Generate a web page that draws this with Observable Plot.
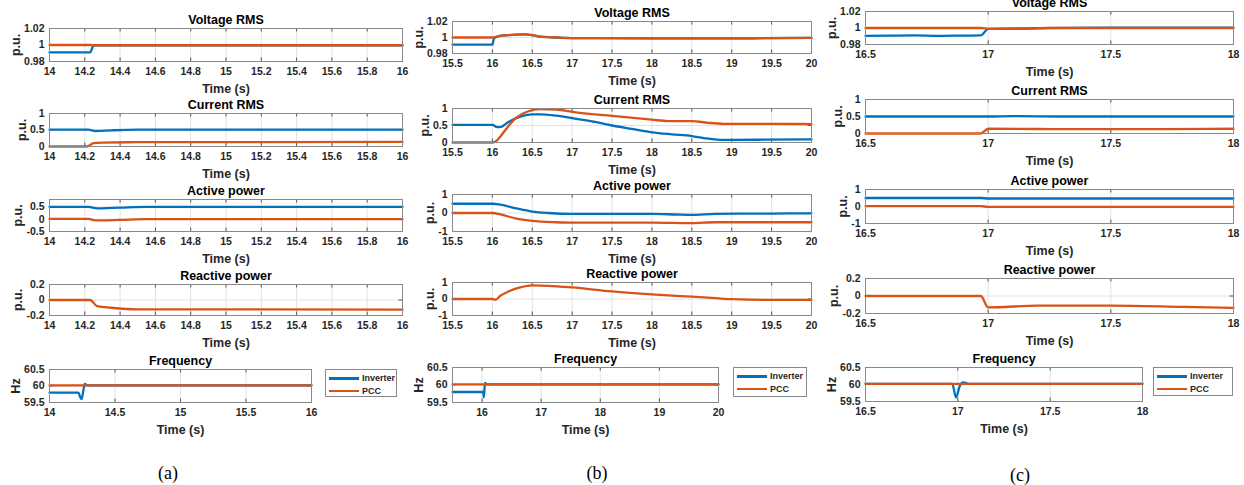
<!DOCTYPE html>
<html><head><meta charset="utf-8">
<script src="https://cdn.jsdelivr.net/npm/d3@7"></script>
<script src="https://cdn.jsdelivr.net/npm/@observablehq/plot@0.6"></script>
<style>
body{margin:0;background:#fff;}
#wrap{position:relative;width:1244px;height:485px;overflow:hidden;background:#fff;font-family:"Liberation Sans",Arial,sans-serif;}
.panel{position:absolute;}
.legend{position:absolute;border:1px solid #8a8a8a;background:#fff;box-sizing:border-box;font:bold 9px "Liberation Sans",Arial,sans-serif;color:#262626;padding-top:2px;}
.legend .row{display:flex;align-items:center;height:12.5px;}
.legend .sw{display:inline-block;width:30px;height:2.5px;margin:0 3px 0 3px;}
.cap{position:absolute;font:18px "Liberation Serif","Times New Roman",serif;transform:translate(-50%,-50%);color:#000;}
</style>
</head><body>
<div id="wrap"></div>
<script>
// ---------- tick labels ----------
const aXTicks = [14, 14.2, 14.4, 14.6, 14.8, 15, 15.2, 15.4, 15.6, 15.8, 16];
const aXTicksF = [14, 14.5, 15, 15.5, 16];
const bXTicks = [15.5, 16, 16.5, 17, 17.5, 18, 18.5, 19, 19.5, 20];
const bXTicksF = [16, 17, 18, 19, 20];
const cXTicks = [16.5, 17, 17.5, 18];
const cXTicksF = [16.5, 17, 17.5, 18];
const voltTicks = [0.98, 1, 1.02];
const curTicks = [0, 0.5, 1];
const actTicksA = [-0.5, 0, 0.5];
const actTicks = [-1, 0, 1];
const reaTicksSmall = [-0.2, 0, 0.2];
const reaTicks = [-1, 0, 1];
const freqTicks = [59.5, 60, 60.5];
const titles = ["Voltage RMS", "Current RMS", "Active power", "Reactive power", "Frequency"];
const seriesNames = ["Inverter", "PCC"];

// ---------- column (a) data [time, value] ----------
const aVoltInv = [[14,0.991],[14.23,0.991],[14.25,0.9995],[16,0.9995]];
const aVoltPcc = [[14,1.0],[14.23,1.0],[14.25,0.9997],[16,0.9997]];
const aCurInv = [[14,0.51],[14.22,0.51],[14.26,0.47],[14.35,0.49],[14.5,0.51],[16,0.51]];
const aCurPcc = [[14,0],[14.21,0],[14.25,0.1],[14.3,0.12],[14.5,0.13],[16,0.14]];
const aActInv = [[14,0.5],[14.22,0.5],[14.27,0.44],[14.4,0.47],[14.55,0.5],[16,0.5]];
const aActPcc = [[14,0.01],[14.22,0.01],[14.26,-0.05],[14.4,-0.03],[14.55,0],[16,0]];
const aReaPcc = [[14,0],[14.23,0],[14.27,-0.08],[14.35,-0.1],[14.5,-0.12],[16,-0.125]];
const aFreqInv = [[14,59.8],[14.22,59.8],[14.235,59.66],[14.245,59.6],[14.26,59.9],[14.27,60.06],[14.29,60.02],[16,60.02]];
const aFreqPcc = [[14,60.02],[16,60.02]];

// ---------- column (b) data ----------
const bVoltInv = [[15.5,0.991],[16,0.991],[16.02,0.999],[16.1,1.002],[16.2,1.003],[16.4,1.004],[16.5,1.003],[16.6,1.001],[16.8,1.0],[17,0.9993],[18,0.999],[19,0.999],[20,0.9995]];
const bVoltPcc = [[15.5,1.0],[16,1.0],[16.1,1.002],[16.2,1.003],[16.4,1.004],[16.5,1.003],[16.6,1.001],[16.8,1.0],[17,0.9993],[18,0.999],[19,0.999],[20,0.9995]];
const bCurInv = [[15.5,0.52],[16,0.52],[16.06,0.45],[16.12,0.47],[16.2,0.6],[16.35,0.76],[16.5,0.83],[16.6,0.83],[16.8,0.79],[17,0.72],[17.25,0.62],[17.5,0.5],[17.75,0.4],[18,0.3],[18.25,0.24],[18.5,0.19],[18.65,0.13],[18.85,0.08],[19,0.08],[20,0.09]];
const bCurPcc = [[15.5,0],[16,0],[16.05,0.05],[16.1,0.18],[16.2,0.48],[16.3,0.73],[16.45,0.92],[16.6,0.98],[16.8,0.97],[17,0.9],[17.5,0.78],[18,0.67],[18.2,0.63],[18.5,0.63],[18.7,0.58],[18.9,0.55],[19.5,0.55],[20,0.54]];
const bActInv = [[15.5,0.5],[16,0.5],[16.1,0.45],[16.3,0.25],[16.5,0.08],[16.7,0],[17,-0.05],[18,-0.05],[18.3,-0.08],[18.5,-0.1],[18.8,-0.05],[19.5,-0.03],[20,-0.02]];
const bActPcc = [[15.5,0],[16,0],[16.1,-0.08],[16.3,-0.3],[16.5,-0.43],[16.8,-0.5],[17,-0.52],[18,-0.52],[18.5,-0.55],[18.8,-0.5],[20,-0.5]];
const bReaPcc = [[15.5,0],[16,0],[16.04,-0.05],[16.1,0.2],[16.2,0.45],[16.35,0.7],[16.5,0.82],[16.7,0.8],[17,0.7],[17.5,0.46],[18,0.28],[18.5,0.14],[18.8,0.05],[19,-0.01],[19.5,-0.05],[20,-0.05]];
const bFreqInv = [[15.5,59.8],[16.02,59.8],[16.03,59.65],[16.05,60.06],[16.08,60.02],[20,60.02]];
const bFreqPcc = [[15.5,60.02],[20,60.02]];

// ---------- column (c) data ----------
const cVoltInv = [[16.5,0.9905],[16.6,0.9908],[16.7,0.991],[16.8,0.9905],[16.9,0.9908],[16.97,0.991],[17.0,0.999],[17.2,0.9998],[17.5,1.0005],[18,1.0005]];
const cVoltPcc = [[16.5,1.0],[16.97,1.0],[17.0,0.999],[17.15,0.999],[17.25,1.0],[18,1.0]];
const cCurInv = [[16.5,0.5],[17,0.5],[17.1,0.51],[17.3,0.5],[18,0.5]];
const cCurPcc = [[16.5,0],[16.97,0],[17.0,0.14],[17.3,0.13],[17.7,0.13],[18,0.14]];
const cActInv = [[16.5,0.5],[16.97,0.5],[17.0,0.47],[18,0.47]];
const cActPcc = [[16.5,0.02],[16.97,0.02],[17.0,-0.02],[18,-0.02]];
const cReaPcc = [[16.5,0],[16.97,0],[17.0,-0.13],[17.2,-0.11],[17.5,-0.11],[17.8,-0.125],[18,-0.135]];
const cFreqInv = [[16.5,60.02],[16.97,60.02],[16.99,59.62],[17.01,59.95],[17.03,60.06],[17.06,60.02],[18,60.02]];
const cFreqPcc = [[16.5,60.02],[18,60.02]];

// ---------- layout (frame positions in page pixels) ----------
const BLUE = "#0072BD", ORANGE = "#D95319";
const cols = [
  {L:49, R:402, fR:311, rows:[[28,61],[113,146],[199,231],[284,315],[369,402]], leg:[325,369,72,28], cap:[168,473,"(a)"],
   xd:[14,16], xt:aXTicks, xtf:aXTicksF,
   y:[[0.98,1.02,voltTicks],[0,1,curTicks],[-0.5,0.8,actTicksA],[-0.2,0.2,reaTicksSmall],[59.5,60.5,freqTicks]],
   s:[[aVoltInv,aVoltPcc],[aCurInv,aCurPcc],[aActInv,aActPcc],[null,aReaPcc],[aFreqInv,aFreqPcc]]},
  {L:452, R:811, fR:718, rows:[[21,53],[108,142],[194,231],[282,315],[367,402]], leg:[733,367,74,30], cap:[597,473,"(b)"],
   xd:[15.5,20], xt:bXTicks, xtf:bXTicksF,
   y:[[0.98,1.02,voltTicks],[0,1,curTicks],[-1,1,actTicks],[-1,1,reaTicks],[59.5,60.5,freqTicks]],
   s:[[bVoltInv,bVoltPcc],[bCurInv,bCurPcc],[bActInv,bActPcc],[null,bReaPcc],[bFreqInv,bFreqPcc]]},
  {L:865, R:1233, fR:1142, rows:[[11,44],[99,133],[189,223],[278,313],[367,401]], leg:[1153,367,80,29], cap:[1020,475,"(c)"],
   xd:[16.5,18], xt:cXTicks, xtf:cXTicksF,
   y:[[0.98,1.02,voltTicks],[0,1,curTicks],[-1,1,actTicks],[-0.2,0.2,reaTicksSmall],[59.5,60.5,freqTicks]],
   s:[[cVoltInv,cVoltPcc],[cCurInv,cCurPcc],[cActInv,cActPcc],[null,cReaPcc],[cFreqInv,cFreqPcc]]}
];

const fmt = d => String(+(+d).toFixed(4));
const FS = 10.5;
function textW(s) { let w = 0; for (const ch of s) w += (ch === "." ? 0.278 : ch === "-" ? 0.333 : 0.556); return w * FS; }

const wrap = document.getElementById("wrap");

cols.forEach(col => {
  col.rows.forEach(([top, bottom], r) => {
    const isFreq = r === 4;
    const left = col.L, right = isFreq ? col.fR : col.R;
    const w = right - left, h = bottom - top;
    const ml = 60, mr = 10, mt = 24, mb = 40;
    const [y0, y1, yt] = col.y[r];
    const xt = isFreq ? col.xtf : col.xt;
    const labW = d3.max(yt, t => textW(fmt(t)));
    const [inv, pcc] = col.s[r];
    const line = (data, color) => Plot.line(data, {x: d => d[0], y: d => d[1], stroke: color, strokeWidth: 2.3, curve: "monotone-x"});
    const marks = [
      Plot.gridX(xt, {stroke: "#e2e2e2", strokeOpacity: 1}),
      Plot.gridY(yt, {stroke: "#e2e2e2", strokeOpacity: 1}),
      Plot.tickX(xt, {x: d => d, insetTop: h - 3.5, stroke: "#555"}),
      Plot.tickX(xt, {x: d => d, insetBottom: h - 3.5, stroke: "#555"}),
      Plot.tickY(yt, {y: d => d, insetRight: w - 3.5, stroke: "#555"}),
      Plot.tickY(yt, {y: d => d, insetLeft: w - 3.5, stroke: "#555"}),
    ];
    if (inv) marks.push(line(inv, BLUE));
    if (pcc) marks.push(line(pcc, ORANGE));
    marks.push(
      Plot.frame({stroke: "#8a8a8a"}),
      Plot.axisX(xt, {tickSize: 0, tickPadding: 6, tickFormat: fmt, label: null, fill: "#262626"}),
      Plot.axisY(yt, {tickSize: 0, tickPadding: 5, tickFormat: fmt, label: null, fill: "#262626"}),
      Plot.text([titles[r]], {text: d => d, frameAnchor: "top", lineAnchor: "middle", dy: -9, fontSize: 12.5, fill: "#000"}),
      Plot.text(["Time (s)"], {text: d => d, frameAnchor: "bottom", lineAnchor: "middle", dy: 27, fontSize: 12.5, fill: "#262626"}),
      Plot.text([isFreq ? "Hz" : "p.u."], {text: d => d, frameAnchor: "left", rotate: -90, textAnchor: "middle", lineAnchor: "middle", dx: -(labW + 13), fontSize: 12.5, fill: "#262626"})
    );
    const svg = Plot.plot({
      width: w + ml + mr, height: h + mt + mb,
      marginLeft: ml, marginRight: mr, marginTop: mt, marginBottom: mb,
      x: {domain: col.xd}, y: {domain: [y0, y1]},
      style: {background: "transparent", fontFamily: '"Liberation Sans", Arial, sans-serif', fontSize: FS + "px", fontWeight: "bold", maxWidth: "none", overflow: "visible"},
      marks
    });
    svg.classList.add("panel");
    svg.style.left = (left - ml) + "px";
    svg.style.top = (top - mt) + "px";
    wrap.appendChild(svg);
  });
  // legend
  const [lx, ly, lw, lh] = col.leg;
  const lg = document.createElement("div");
  lg.className = "legend";
  Object.assign(lg.style, {left: lx + "px", top: ly + "px", width: lw + "px", height: lh + "px"});
  [BLUE, ORANGE].forEach((c, i) => {
    const row = document.createElement("div");
    row.className = "row";
    const sw = document.createElement("span");
    sw.className = "sw"; sw.style.background = c;
    row.appendChild(sw);
    row.appendChild(document.createTextNode(seriesNames[i]));
    lg.appendChild(row);
  });
  wrap.appendChild(lg);
  // caption
  const cp = document.createElement("div");
  cp.className = "cap";
  cp.style.left = col.cap[0] + "px"; cp.style.top = col.cap[1] + "px";
  cp.textContent = col.cap[2];
  wrap.appendChild(cp);
});
</script>
</body></html>
